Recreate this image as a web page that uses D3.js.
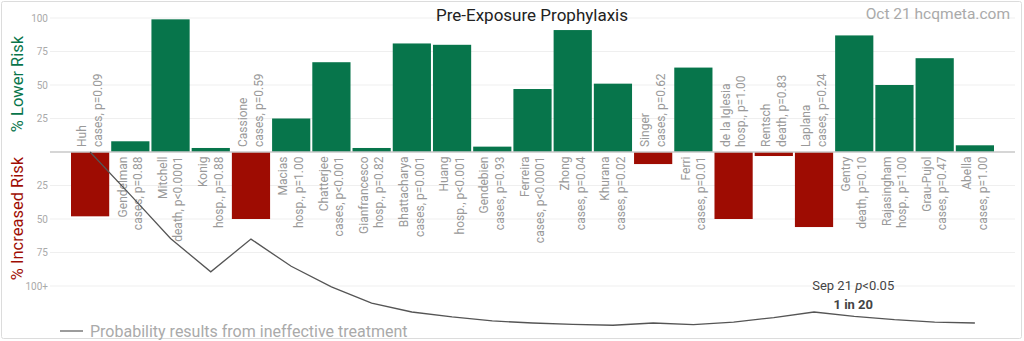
<!DOCTYPE html>
<html><head><meta charset="utf-8">
<script src="https://cdn.jsdelivr.net/npm/d3@7"></script>
<style>
html,body{margin:0;padding:0;background:#fff;}
svg{display:block;font-family:Roboto,"Noto Sans",sans-serif;}
</style></head>
<body><svg id="c" width="1024" height="341"></svg>
<script>
const studies = ["Huh","Gendelman","Mitchell","Konig","Cassione","Macias","Chatterjee","Gianfrancesco","Bhattacharya","Huang","Gendebien","Ferreira","Zhong","Khurana","Singer","Ferri","de la Iglesia","Rentsch","Laplana","Gentry","Rajasingham","Grau-Pujol","Abella"];
const details = ["cases, p=0.09","cases, p=0.88","death, p<0.0001","hosp., p=0.88","cases, p=0.59","hosp., p=1.00","cases, p<0.001","hosp., p=0.82","cases, p=0.001","hosp., p<0.001","cases, p=0.93","cases, p<0.0001","cases, p=0.04","cases, p=0.02","cases, p=0.62","cases, p=0.01","hosp., p=1.00","death, p=0.83","cases, p=0.24","death, p=0.10","hosp., p=1.00","cases, p=0.47","cases, p=1.00"];
// % lower risk (positive) / % increased risk (negative)
const effects = [-48,8,99,3,-50,25,67,3,81,80,4,47,91,51,-9,63,-50,-3,-56,87,50,70,5];
// probability line position, in the same axis units
const probLine = [0,-32,-64.6,-89.4,-65,-85.3,-100.7,-112.7,-119.4,-123.1,-126.1,-127.6,-128.6,-129.3,-127.6,-128.8,-126.9,-123.6,-119.4,-122.6,-125.1,-126.9,-127.6];
const tickValues = [100,75,50,25,-25,-50,-75,-100];
const tickLabels = ["100","75","50","25","25","50","75","100+"];

const svg = d3.select("#c");
const green = "#07754b", red = "#9e0c02";

svg.append("rect").attr("x",1.5).attr("y",1.5).attr("width",1020).attr("height",337)
  .attr("rx",2).attr("fill","#fff").attr("stroke","#dcdcdc").attr("stroke-width",1);

const x = d3.scaleBand().domain(studies).range([70,995]).paddingInner(0.05).paddingOuter(0.025);
const y = d3.scaleLinear().domain([-100,100]).range([286,18]);

// gridlines
svg.append("g").selectAll("line").data(tickValues).join("line")
  .attr("x1",50).attr("x2",1015).attr("y1",d=>y(d)).attr("y2",d=>y(d))
  .attr("stroke","#efefef").attr("stroke-width",1);
svg.append("g").selectAll("text").data(tickValues).join("text")
  .attr("x",48).attr("y",d=>y(d)).attr("dy","0.35em").attr("text-anchor","end")
  .attr("font-size",10).attr("fill","#aaa").text((d,i)=>tickLabels[i]);

// bars
svg.append("g").selectAll("rect").data(effects).join("rect")
  .attr("x",(d,i)=>x(studies[i])).attr("width",x.bandwidth())
  .attr("y",d=>d>=0?y(d):y(0)).attr("height",d=>Math.abs(y(d)-y(0)))
  .attr("fill",d=>d>=0?green:red);

// zero line
svg.append("line").attr("x1",50).attr("x2",1015).attr("y1",y(0)).attr("y2",y(0))
  .attr("stroke","#c8c8c8").attr("stroke-width",1.5);

// labels
const lab = svg.append("g").selectAll("text").data(effects).join("text")
  .attr("font-size",12).attr("fill","#999")
  .attr("transform",(d,i)=>{
    const cx = x(studies[i]) + x.bandwidth()/2;
    const yy = d>=0 ? y(0)+4.5 : y(0)-5;
    return `translate(${cx},${yy}) rotate(-90)`;
  })
  .attr("text-anchor",d=>d>=0?"end":"start");
lab.append("tspan").attr("x",0).attr("y",-7.8).attr("dominant-baseline","central").text((d,i)=>studies[i]);
lab.append("tspan").attr("x",0).attr("y",7.8).attr("dominant-baseline","central").text((d,i)=>details[i]);

// probability line
const line = d3.line().x((d,i)=>x(studies[i])+x.bandwidth()/2).y(d=>y(d));
svg.append("path").datum(probLine).attr("d",line).attr("fill","none")
  .attr("stroke","#555").attr("stroke-width",1.3);

// annotation
const ax = x("Gentry")+x.bandwidth()/2 - 1;
const ann = svg.append("text").attr("x",ax).attr("y",290).attr("text-anchor","middle")
  .attr("font-size",13).attr("fill","#444");
ann.append("tspan").text("Sep 21 ");
ann.append("tspan").attr("font-style","italic").text("p");
ann.append("tspan").text("<0.05");
svg.append("text").attr("x",ax).attr("y",309).attr("text-anchor","middle")
  .attr("font-size",13).attr("font-weight","bold").attr("fill","#444").text("1 in 20");

// title
svg.append("text").attr("x",532).attr("y",21).attr("text-anchor","middle")
  .attr("font-size",17).attr("fill","#222").text("Pre-Exposure Prophylaxis");
svg.append("text").attr("x",1010).attr("y",18.5).attr("text-anchor","end")
  .attr("font-size",15.5).attr("fill","#aaa").text("Oct 21 hcqmeta.com");

// y titles
svg.append("text").attr("transform",`translate(17,84) rotate(-90)`).attr("text-anchor","middle")
  .attr("dominant-baseline","central").attr("font-size",16.5).attr("fill",green).text("% Lower Risk");
svg.append("text").attr("transform",`translate(17,218.5) rotate(-90)`).attr("text-anchor","middle")
  .attr("dominant-baseline","central").attr("font-size",16.5).attr("fill",red).text("% Increased Risk");

// legend
svg.append("line").attr("x1",60).attr("x2",83).attr("y1",331).attr("y2",331)
  .attr("stroke","#666").attr("stroke-width",1.3);
svg.append("text").attr("x",90).attr("y",336.5).attr("font-size",16).attr("fill","#aaa")
  .text("Probability results from ineffective treatment");
</script></body></html>
